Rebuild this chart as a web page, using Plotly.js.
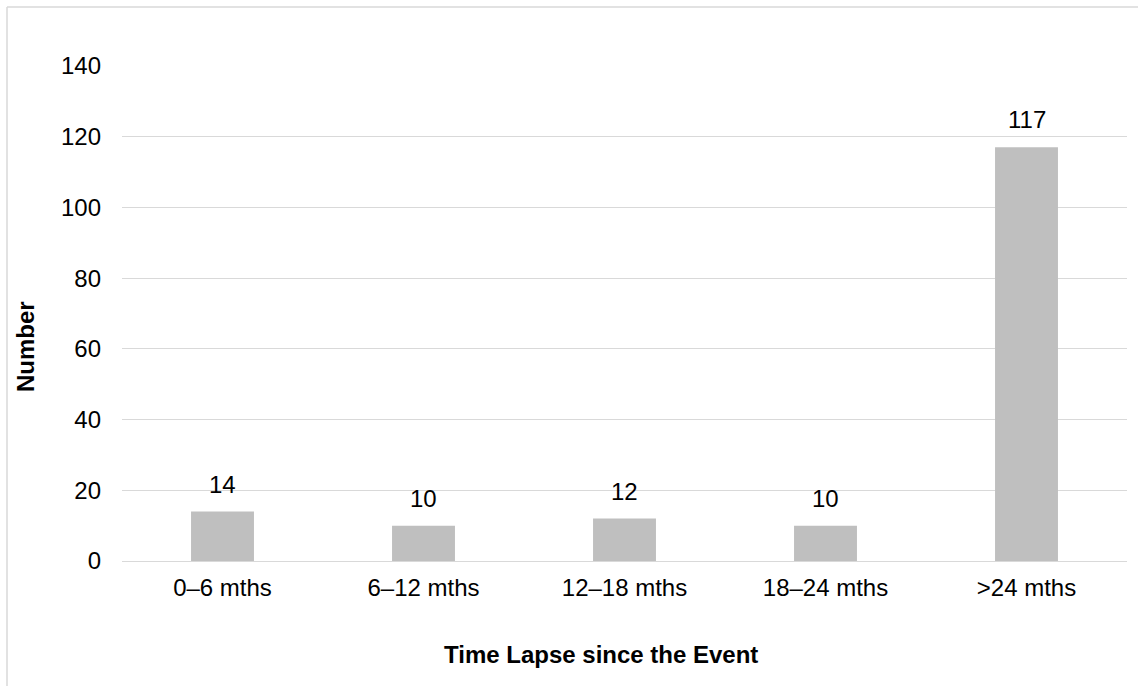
<!DOCTYPE html>
<html>
<head>
<meta charset="utf-8">
<script src="https://cdn.plot.ly/plotly-3.0.1.min.js"></script>
<style>
html,body{margin:0;padding:0;background:#fff;}
#chart{width:1138px;height:686px;}
</style>
</head>
<body>
<div id="chart"></div>
<script>
const categories = ["0–6 mths", "6–12 mths", "12–18 mths", "18–24 mths", ">24 mths"];
const counts = [14, 10, 12, 10, 117];
const yTicks = [0, 20, 40, 60, 80, 100, 120, 140];
const xTitle = "Time Lapse since the Event";
const yTitle = "Number";

const FONT = "Liberation Sans, Arial, sans-serif";
const W = 1138, H = 686;
const M = {l: 122, r: 11, t: 66, b: 125};
const pw = W - M.l - M.r, ph = H - M.t - M.b;
const px = x => (x - M.l) / pw;
const py = y => (H - M.b - y) / ph;

const trace = {
  type: "bar",
  x: categories,
  y: counts,
  marker: {color: "#bfbfbf"},
  hoverinfo: "x+y"
};

const labels = categories.map((c, i) => ({
  x: c, y: counts[i], xref: "x", yref: "y",
  text: String(counts[i]), showarrow: false,
  yanchor: "bottom", yshift: 12,
  font: {family: FONT, size: 24, color: "#000"}
}));

const layout = {
  width: W, height: H,
  margin: M,
  paper_bgcolor: "#fff", plot_bgcolor: "#fff",
  showlegend: false,
  bargap: 0.687,
  font: {family: FONT, size: 24, color: "#000"},
  xaxis: {
    type: "category",
    showgrid: false, zeroline: false,
    showline: false,
    ticks: "", ticklabelstandoff: 10,
    tickfont: {family: FONT, size: 24, color: "#000"}
  },
  yaxis: {
    range: [0, 140], tickvals: yTicks, ticktext: yTicks.map(String),
    showgrid: true, gridcolor: "#d9d9d9", gridwidth: 1.3,
    zeroline: true, zerolinecolor: "#d9d9d9", zerolinewidth: 1.3,
    showline: false, ticks: "", ticklabelstandoff: 20,
    tickfont: {family: FONT, size: 24, color: "#000"}
  },
  annotations: labels.concat([
    {xref: "paper", yref: "paper", x: px(601), y: py(654), text: "<b>" + xTitle + "</b>",
     showarrow: false, xanchor: "center", yanchor: "middle",
     font: {family: FONT, size: 24, color: "#000"}},
    {xref: "paper", yref: "paper", x: px(25), y: py(347), text: "<b>" + yTitle + "</b>",
     showarrow: false, xanchor: "center", yanchor: "middle", textangle: -90,
     font: {family: FONT, size: 24, color: "#000"}}
  ]),
  shapes: [
    {type: "line", xref: "paper", yref: "paper", x0: px(7), x1: px(7), y0: py(7), y1: py(H + 5),
     line: {color: "#d9d9d9", width: 1.5}},
    {type: "line", xref: "paper", yref: "paper", x0: px(7), x1: px(W + 5), y0: py(7), y1: py(7),
     line: {color: "#d9d9d9", width: 1.5}}
  ]
};

Plotly.newPlot("chart", [trace], layout, {displayModeBar: false, staticPlot: false});
</script>
</body>
</html>
